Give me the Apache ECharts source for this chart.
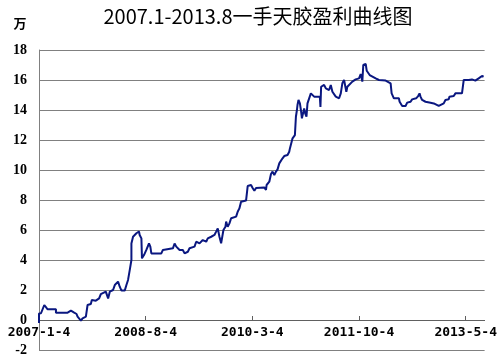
<!DOCTYPE html>
<html>
<head>
<meta charset="utf-8">
<script src="https://cdn.jsdelivr.net/npm/echarts@6/dist/echarts.min.js"></script>
<style>html,body{margin:0;padding:0;background:#fff;}#c{width:500px;height:364px;}</style>
</head>
<body>
<div id="c"></div>
<script>
var titleText = '2007.1-2013.8一手天胶盈利曲线图';
var unitText = '万';
var xLabels = ['2007-1-4', '2008-8-4', '2010-3-4', '2011-10-4', '2013-5-4'];
var xLabelMonths = [0, 19, 38, 57, 76];
var xMaxMonth = 79.37;
var yTicks = [-2, 0, 2, 4, 6, 8, 10, 12, 14, 16, 18];

// months elapsed since 2007-1-4
var months = [0, 0, 0.36, 0.66, 0.94, 1.24, 1.54, 3.02, 3.02, 5.10, 5.10, 5.68, 5.68, 6.27, 6.45, 6.69, 6.87, 7.46, 7.76, 8.35,
  8.65, 9.23, 9.41, 10.12, 10.71, 11.01, 11.90, 12.31, 12.61, 13.19, 13.50, 14.08, 14.38, 14.69, 15.27, 15.57, 15.86, 16.16, 16.46, 16.46,
  16.75, 17.35, 17.81, 17.93, 18.24, 18.34, 18.70, 19.12, 19.59, 19.83, 20.01, 21.79, 22.07, 23.85, 24.15, 24.45, 25.04, 25.62, 25.93, 26.51,
  26.81, 27.70, 28.00, 28.59, 29.17, 29.78, 30.06, 30.67, 31.25, 31.55, 31.84, 32.14, 32.44, 32.62, 32.85, 33.21, 33.33, 33.61, 33.92, 34.22,
  35.11, 35.39, 35.69, 35.99, 36.88, 37.17, 37.17, 37.77, 38.05, 38.36, 38.66, 40.13, 40.43, 40.54, 41.02, 41.32, 41.60, 41.91, 42.21, 42.49,
  42.80, 43.10, 43.38, 43.68, 44.27, 44.57, 44.69, 44.87, 45.16, 45.46, 45.58, 45.76, 45.94, 46.04, 46.22, 46.47, 46.65, 46.83, 47.06, 47.23,
  47.41, 47.64, 47.82, 48.12, 48.42, 48.71, 49.01, 50.02, 50.13, 50.25, 50.78, 51.09, 51.67, 51.97, 52.26, 52.86, 53.45, 53.75, 54.03, 54.34,
  54.51, 54.74, 54.92, 55.22, 55.81, 56.41, 57.00, 57.30, 57.59, 57.76, 58.19, 58.37, 58.65, 58.90, 59.25, 59.97, 60.55, 61.74, 62.03, 62.63,
  62.81, 63.21, 64.10, 64.23, 64.58, 64.69, 65.29, 65.58, 66.18, 66.46, 66.77, 67.17, 67.53, 67.78, 67.95, 68.24, 68.54, 68.84, 69.73, 70.32,
  70.62, 71.20, 71.51, 72.09, 72.39, 72.98, 73.10, 73.87, 74.17, 75.34, 75.65, 76.53, 76.83, 77.12, 77.72, 78.00, 78.31, 78.61, 78.90, 79.20];

// cumulative profit (10k)
var profit = [-0.2, 0.44, 0.45, 0.55, 1.0, 0.9, 0.71, 0.71, 0.49, 0.49, 0.62, 0.62, 0.49, 0.49, 0.62, 0.40, 0.22, -0.04, 0.11, 0.22,
  1.0, 1.07, 1.33, 1.29, 1.44, 1.73, 1.89, 1.44, 1.89, 2.0, 2.33, 2.56, 2.22, 1.96, 1.96, 2.33, 2.67, 3.33, 4.0, 5.1,
  5.55, 5.78, 5.9, 5.67, 5.44, 4.11, 4.33, 4.67, 5.1, 4.89, 4.44, 4.44, 4.67, 4.78, 5.1, 4.89, 4.67, 4.67, 4.44, 4.55,
  4.78, 4.89, 5.22, 5.11, 5.33, 5.22, 5.44, 5.55, 5.67, 5.89, 6.11, 5.55, 5.11, 5.11, 6.0, 6.22, 6.56, 6.22, 6.44, 6.78,
  6.89, 7.22, 7.44, 7.89, 7.96, 8.0, 8.93, 9.0, 8.8, 8.62, 8.8, 8.84, 8.67, 9.0, 9.22, 9.73, 9.89, 9.67, 9.89, 10.04,
  10.44, 10.55, 10.78, 10.93, 11.0, 11.22, 11.44, 11.55, 12.11, 12.18, 12.33, 13.55, 14.0, 14.33, 14.67, 14.44, 14.0, 13.44, 13.55, 14.11,
  13.78, 13.55, 14.44, 14.55, 15.11, 15.22, 14.89, 14.89, 14.2, 15.55, 15.67, 15.44, 15.33, 15.67, 15.22, 14.89, 14.78, 15.11, 15.78, 16.0,
  16.11, 15.22, 15.55, 15.67, 15.89, 16.04, 16.11, 16.4, 15.89, 17.0, 17.07, 16.62, 16.62, 16.33, 16.22, 16.11, 16.0, 15.96, 15.89, 15.78,
  15.11, 14.78, 14.78, 14.55, 14.49, 14.27, 14.27, 14.49, 14.55, 14.71, 14.67, 14.78, 14.93, 15.11, 14.89, 14.67, 14.71, 14.55, 14.49, 14.44,
  14.38, 14.27, 14.4, 14.44, 14.67, 14.71, 14.89, 14.93, 15.11, 15.11, 16.0, 16.0, 15.89, 16.04, 15.96, 16.0, 16.11, 16.22, 16.27, 16.22];

var seriesData = months.map(function (m, i) { return [m, profit[i]]; });

var chart = echarts.init(document.getElementById('c'), null, {renderer: 'canvas'});
chart.setOption({
  backgroundColor: '#ffffff',
  animation: false,
  grid: {left: 39, right: 14, top: 50, bottom: 14, containLabel: false},
  graphic: [
    {type: 'text', x: 258, y: 16, style: {text: titleText, textAlign: 'center', textVerticalAlign: 'middle',
      font: 'normal 20px "Noto Sans CJK SC", sans-serif', fill: '#000'}},
    {type: 'text', x: 20, y: 23, style: {text: unitText, textAlign: 'center', textVerticalAlign: 'middle',
      font: 'bold 13px "Noto Sans CJK SC", sans-serif', fill: '#000'}}
  ],
  xAxis: {
    type: 'value',
    min: 0,
    max: xMaxMonth,
    axisLine: {show: true, onZero: true, lineStyle: {color: '#606060', width: 1}},
    axisTick: {show: true, inside: true, length: 4, customValues: xLabelMonths, lineStyle: {color: '#606060'}},
    axisLabel: {
      customValues: xLabelMonths,
      margin: -24,
      color: '#000',
      fontWeight: 'bold',
      fontSize: 13,
      fontFamily: '"DejaVu Sans Mono", monospace',
      formatter: function (v) {
        var i = xLabelMonths.indexOf(Math.round(v));
        return i >= 0 ? xLabels[i] : '';
      }
    },
    splitLine: {show: false}
  },
  yAxis: {
    type: 'value',
    min: yTicks[0],
    max: yTicks[yTicks.length - 1],
    interval: 2,
    axisLine: {show: true, lineStyle: {color: '#808080', width: 1}},
    axisTick: {show: false},
    axisLabel: {margin: 12, color: '#000', fontWeight: 'bold', fontSize: 14, fontFamily: '"Liberation Serif", serif'},
    splitLine: {show: true, lineStyle: {color: '#808080', width: 1}}
  },
  series: [{
    type: 'line',
    data: seriesData,
    showSymbol: false,
    smooth: false,
    lineStyle: {color: '#0a1780', width: 2},
    itemStyle: {color: '#0a1780'}
  }]
});
</script>
</body>
</html>
